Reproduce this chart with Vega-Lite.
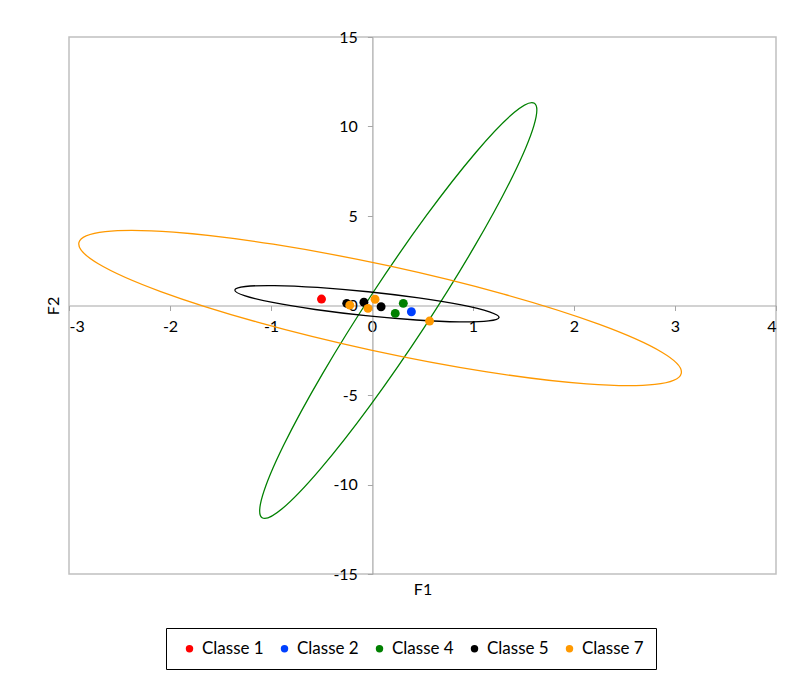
{
  "$schema": "https://vega.github.io/schema/vega-lite/v6.json",
  "width": 707,
  "height": 537,
  "autosize": {"type": "none"},
  "padding": {"left": 69, "top": 37, "right": 24, "bottom": 109},
  "background": "white",
  "config": {
    "font": "Lato",
    "view": {"stroke": "#c0c0c0", "strokeWidth": 1.5}
  },
  "datasets": {
    "points": [
      {"Classe": "Classe 1", "F1": -0.50, "F2": 0.36},
      {"Classe": "Classe 2", "F1": 0.39, "F2": -0.35},
      {"Classe": "Classe 4", "F1": 0.31, "F2": 0.12},
      {"Classe": "Classe 4", "F1": 0.23, "F2": -0.44},
      {"Classe": "Classe 5", "F1": -0.25, "F2": 0.12},
      {"Classe": "Classe 5", "F1": -0.08, "F2": 0.18},
      {"Classe": "Classe 5", "F1": 0.09, "F2": -0.07},
      {"Classe": "Classe 7", "F1": -0.22, "F2": 0.02},
      {"Classe": "Classe 7", "F1": 0.03, "F2": 0.35},
      {"Classe": "Classe 7", "F1": -0.04, "F2": -0.16},
      {"Classe": "Classe 7", "F1": 0.57, "F2": -0.87}
    ],
    "ellipses": [
      {"Ellipse": "Classe 4", "i": 0, "F1": 1.608, "F2": 11.295},
      {"Ellipse": "Classe 4", "i": 1, "F1": 1.603, "F2": 10.050},
      {"Ellipse": "Classe 4", "i": 2, "F1": 1.394, "F2": 7.233},
      {"Ellipse": "Classe 4", "i": 3, "F1": 1.012, "F2": 3.271},
      {"Ellipse": "Classe 4", "i": 4, "F1": 0.516, "F2": -1.231},
      {"Ellipse": "Classe 4", "i": 5, "F1": -0.019, "F2": -5.589},
      {"Ellipse": "Classe 4", "i": 6, "F1": -0.512, "F2": -9.137},
      {"Ellipse": "Classe 4", "i": 7, "F1": -0.887, "F2": -11.338},
      {"Ellipse": "Classe 4", "i": 8, "F1": -1.088, "F2": -11.855},
      {"Ellipse": "Classe 4", "i": 9, "F1": -1.083, "F2": -10.610},
      {"Ellipse": "Classe 4", "i": 10, "F1": -0.874, "F2": -7.793},
      {"Ellipse": "Classe 4", "i": 11, "F1": -0.492, "F2": -3.831},
      {"Ellipse": "Classe 4", "i": 12, "F1": 0.004, "F2": 0.671},
      {"Ellipse": "Classe 4", "i": 13, "F1": 0.539, "F2": 5.029},
      {"Ellipse": "Classe 4", "i": 14, "F1": 1.032, "F2": 8.577},
      {"Ellipse": "Classe 4", "i": 15, "F1": 1.407, "F2": 10.778},
      {"Ellipse": "Classe 5", "i": 0, "F1": 1.258, "F2": -0.665},
      {"Ellipse": "Classe 5", "i": 1, "F1": 1.154, "F2": -0.862},
      {"Ellipse": "Classe 5", "i": 2, "F1": 0.866, "F2": -0.913},
      {"Ellipse": "Classe 5", "i": 3, "F1": 0.439, "F2": -0.809},
      {"Ellipse": "Classe 5", "i": 4, "F1": -0.062, "F2": -0.567},
      {"Ellipse": "Classe 5", "i": 5, "F1": -0.562, "F2": -0.223},
      {"Ellipse": "Classe 5", "i": 6, "F1": -0.984, "F2": 0.169},
      {"Ellipse": "Classe 5", "i": 7, "F1": -1.263, "F2": 0.552},
      {"Ellipse": "Classe 5", "i": 8, "F1": -1.358, "F2": 0.865},
      {"Ellipse": "Classe 5", "i": 9, "F1": -1.254, "F2": 1.062},
      {"Ellipse": "Classe 5", "i": 10, "F1": -0.966, "F2": 1.113},
      {"Ellipse": "Classe 5", "i": 11, "F1": -0.539, "F2": 1.009},
      {"Ellipse": "Classe 5", "i": 12, "F1": -0.038, "F2": 0.767},
      {"Ellipse": "Classe 5", "i": 13, "F1": 0.462, "F2": 0.423},
      {"Ellipse": "Classe 5", "i": 14, "F1": 0.884, "F2": 0.031},
      {"Ellipse": "Classe 5", "i": 15, "F1": 1.163, "F2": -0.352},
      {"Ellipse": "Classe 7", "i": 0, "F1": 3.062, "F2": -3.788},
      {"Ellipse": "Classe 7", "i": 1, "F1": 2.801, "F2": -4.409},
      {"Ellipse": "Classe 7", "i": 2, "F1": 2.125, "F2": -4.380},
      {"Ellipse": "Classe 7", "i": 3, "F1": 1.138, "F2": -3.705},
      {"Ellipse": "Classe 7", "i": 4, "F1": -0.010, "F2": -2.488},
      {"Ellipse": "Classe 7", "i": 5, "F1": -1.144, "F2": -0.913},
      {"Ellipse": "Classe 7", "i": 6, "F1": -2.092, "F2": 0.779},
      {"Ellipse": "Classe 7", "i": 7, "F1": -2.710, "F2": 2.332},
      {"Ellipse": "Classe 7", "i": 8, "F1": -2.902, "F2": 3.508},
      {"Ellipse": "Classe 7", "i": 9, "F1": -2.641, "F2": 4.129},
      {"Ellipse": "Classe 7", "i": 10, "F1": -1.965, "F2": 4.100},
      {"Ellipse": "Classe 7", "i": 11, "F1": -0.978, "F2": 3.425},
      {"Ellipse": "Classe 7", "i": 12, "F1": 0.170, "F2": 2.208},
      {"Ellipse": "Classe 7", "i": 13, "F1": 1.304, "F2": 0.633},
      {"Ellipse": "Classe 7", "i": 14, "F1": 2.252, "F2": -1.059},
      {"Ellipse": "Classe 7", "i": 15, "F1": 2.870, "F2": -2.612}
    ]
  },
  "encoding": {
    "x": {
      "field": "F1", "type": "quantitative",
      "scale": {"domain": [-3, 4], "nice": false, "zero": false},
      "axis": {
        "values": [-3, -2, -1, 0, 1, 2, 3, 4],
        "labelExpr": "datum.value + ''",
        "offset": -268.5,
        "grid": false,
        "domainColor": "#a6a6a6", "domainWidth": 1.2,
        "tickColor": "#a6a6a6", "tickSize": 5,
        "labelFontSize": 16, "labelColor": "#000", "labelPadding": 8,
        "title": "F1", "titleFontSize": 16, "titleFontWeight": "normal", "titleColor": "#000",
        "titleY": 276
      }
    },
    "y": {
      "field": "F2", "type": "quantitative",
      "scale": {"domain": [-15, 15], "nice": false, "zero": false},
      "axis": {
        "values": [-15, -10, -5, 0, 5, 10, 15],
        "labelExpr": "datum.value + ''",
        "offset": -303.4,
        "grid": false,
        "domainColor": "#a6a6a6", "domainWidth": 1.2,
        "tickColor": "#a6a6a6", "tickSize": 5,
        "labelFontSize": 16, "labelColor": "#000", "labelPadding": 10,
        "title": "F2", "titleFontSize": 16, "titleFontWeight": "normal", "titleColor": "#000",
        "titleX": -311
      }
    }
  },
  "layer": [
    {
      "data": {"name": "ellipses"},
      "mark": {"type": "line", "interpolate": "cardinal-closed", "strokeWidth": 1.3},
      "encoding": {
        "detail": {"field": "Ellipse"},
        "order": {"field": "i", "type": "quantitative"},
        "stroke": {
          "field": "Ellipse", "type": "nominal",
          "scale": {
            "domain": ["Classe 4", "Classe 5", "Classe 7"],
            "range": ["#008000", "#000000", "#ff9900"]
          },
          "legend": null
        }
      }
    },
    {
      "data": {"name": "points"},
      "mark": {"type": "point", "shape": "circle", "filled": true, "size": 80, "opacity": 1},
      "encoding": {
        "color": {
          "field": "Classe", "type": "nominal",
          "scale": {
            "domain": ["Classe 1", "Classe 2", "Classe 4", "Classe 5", "Classe 7"],
            "range": ["#ff0000", "#0040ff", "#008000", "#000000", "#ff9900"]
          },
          "legend": {
            "title": null,
            "orient": "none",
            "direction": "horizontal",
            "legendX": 97,
            "legendY": 591,
            "strokeColor": "#000",
            "padding": 12,
            "symbolType": "circle",
            "symbolSize": 55,
            "symbolOffset": 3,
            "labelOffset": 4,
            "labelFontSize": 17,
            "labelColor": "#000",
            "columnPadding": 9,
            "fillColor": "white"
          }
        }
      }
    }
  ]
}
